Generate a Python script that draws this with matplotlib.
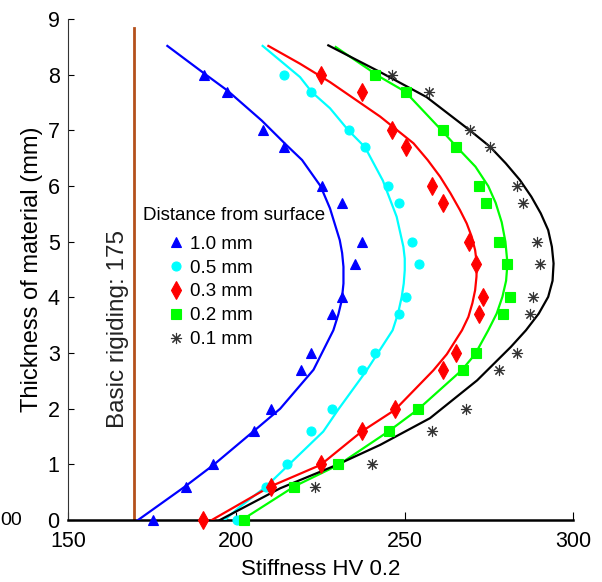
"""
Hardness profile across the material thickness
==============================================
Stiffness HV 0.2 against material thickness for five distances
from the surface, with the basic rigidity reference line.
"""

import matplotlib
matplotlib.use("Agg")
import matplotlib.pyplot as plt
from matplotlib.lines import Line2D

# ---------------------------------------------------------------------------
# Data
# ---------------------------------------------------------------------------

# measured points: thickness (mm) and stiffness HV 0.2
THICKNESS_PTS = [0.0, 0.6, 1.0, 1.6, 2.0, 2.7, 3.0, 3.7, 4.0,
                 4.6, 5.0, 5.7, 6.0, 6.7, 7.0, 7.7, 8.0]
THICKNESS_PTS_01 = THICKNESS_PTS[1:]          # no point at 0 mm for 0.1 mm

HV_10 = [175.2, 185.0, 193.2, 205.3, 210.2, 219.1, 222.2, 228.3, 231.3,
         235.2, 237.2, 231.3, 225.3, 214.2, 208.0, 197.3, 190.4]
HV_05 = [200.1, 208.8, 215.1, 222.2, 228.3, 237.2, 241.2, 248.2, 250.4,
         254.2, 252.3, 248.3, 245.1, 238.2, 233.3, 222.1, 214.2]
HV_03 = [190.2, 210.2, 225.0, 237.2, 247.1, 261.3, 265.2, 272.2, 273.2,
         271.2, 269.2, 261.3, 258.2, 250.4, 246.1, 237.2, 225.0]
HV_02 = [202.4, 217.1, 230.3, 245.3, 254.0, 267.2, 271.2, 279.2, 281.3,
         280.3, 278.1, 274.1, 272.2, 265.2, 261.3, 250.3, 241.2]
HV_01 = [223.2, 240.2, 258.2, 268.1, 278.1, 283.3, 287.1, 288.1,
         290.2, 289.2, 285.1, 283.2, 275.2, 269.3, 257.2, 246.1]

# fitted curves
FIT_10_Y = [0.0, 0.6, 0.99, 1.6, 2.0, 2.7, 3.41, 3.7, 3.95, 4.25, 4.55,
            4.8, 5.03, 5.6, 6.0, 6.47, 6.73, 7.18, 7.72, 8.0, 8.52]
FIT_10_X = [170.8, 184.7, 193.2, 205.2, 213.0, 222.9, 228.8, 230.3, 231.3,
            231.8, 231.8, 231.4, 230.7, 227.8, 225.0, 219.5, 215.0, 207.5,
            197.3, 191.0, 179.5]

FIT_05_Y = [0.0, 0.24, 0.6, 0.99, 1.59, 1.99, 2.69, 3.41, 3.71, 4.01, 4.25,
            4.49, 4.7, 4.91, 5.45, 6.1, 6.7, 7.0, 7.4, 7.69, 7.96, 8.52]
FIT_05_X = [196.5, 201.1, 208.8, 215.5, 225.8, 230.3, 238.7, 246.4, 248.0,
            249.1, 249.7, 250.0, 250.0, 249.6, 247.6, 243.5, 238.2, 233.3,
            227.8, 222.4, 218.9, 207.8]

FIT_03_Y = [0.0, 0.6, 0.99, 1.59, 1.98, 2.69, 2.98, 3.41, 3.65, 3.9, 4.13,
            4.37, 4.61, 4.85, 5.09, 5.33, 5.57, 5.87, 6.17, 6.47, 6.77,
            7.25, 7.87, 8.2, 8.52]
FIT_03_X = [192.7, 210.0, 225.0, 237.2, 247.1, 258.5, 262.5, 267.0, 268.9,
            270.1, 270.9, 271.3, 271.4, 270.9, 269.9, 268.4, 266.4, 263.6,
            260.5, 256.8, 252.6, 242.7, 227.8, 218.9, 209.5]

FIT_02_Y = [0.0, 0.61, 0.99, 1.59, 1.99, 2.69, 2.98, 3.41, 3.71, 4.01, 4.3,
            4.61, 5.0, 5.35, 5.7, 6.0, 6.35, 6.7, 7.0, 7.7, 7.96, 8.5]
FIT_02_X = [201.6, 217.4, 230.3, 245.1, 254.0, 266.9, 270.9, 274.8, 277.3,
            279.0, 280.1, 280.5, 279.9, 278.8, 277.0, 274.8, 271.0, 265.5,
            261.0, 250.1, 242.7, 229.5]

FIT_01_Y = [0.0, 0.57, 0.99, 1.35, 1.83, 2.51, 3.11, 3.41, 3.71, 4.01, 4.3,
            4.61, 4.91, 5.21, 5.51, 5.81, 6.11, 6.41, 6.71, 7.0, 7.6, 8.05,
            8.53]
FIT_01_X = [195.1, 213.0, 229.8, 242.7, 257.5, 271.5, 281.5, 286.0, 289.8,
            292.6, 293.9, 294.2, 293.7, 292.6, 290.4, 287.6, 284.2, 280.0,
            275.3, 269.4, 256.5, 242.7, 227.3]

# basic rigidity reference line
BASE_HV = 169.6
BASE_TOP = 8.84

LABELS = ["1.0 mm", "0.5 mm", "0.3 mm", "0.2 mm", "0.1 mm"]
X_TICKS = [150, 200, 250, 300]
Y_TICKS = list(range(0, 10))

# ---------------------------------------------------------------------------
# Style
# ---------------------------------------------------------------------------

NARROW = ["Liberation Sans Narrow", "Liberation Sans", "DejaVu Sans"]
WIDE = ["Liberation Sans", "DejaVu Sans"]
plt.rcParams["font.family"] = NARROW

SERIES = [
    # y, x, fit y, fit x, colour, marker, marker size
    (THICKNESS_PTS, HV_10, FIT_10_Y, FIT_10_X, "#0000ff", "^", 7.5),
    (THICKNESS_PTS, HV_05, FIT_05_Y, FIT_05_X, "#00ffff", "o", 6.5),
    (THICKNESS_PTS, HV_03, FIT_03_Y, FIT_03_X, "#ff0000", "d", 9.0),
    (THICKNESS_PTS, HV_02, FIT_02_Y, FIT_02_X, "#00ff00", "s", 6.5),
    (THICKNESS_PTS_01, HV_01, FIT_01_Y, FIT_01_X, "#000000", (8, 2, 0), 8.0),
]

# ---------------------------------------------------------------------------
# Plot
# ---------------------------------------------------------------------------

fig = plt.figure(figsize=(6.02, 5.82), dpi=100)
ax = fig.add_axes([0.113, 0.1065, 0.839, 0.8605])

ax.plot([BASE_HV, BASE_HV], [0, BASE_TOP], color="#b4501c", lw=2.0)

handles = []
for ys, xs, fy, fx, color, marker, ms in SERIES:
    ax.plot(fx, fy, color=color, lw=1.6, zorder=3, solid_joinstyle="round")
    mec = "#333333" if color == "#000000" else color
    ax.plot(xs, ys, linestyle="none", marker=marker, ms=ms, color=color,
            mec=mec, mew=0.8, clip_on=False, zorder=4)
    handles.append(Line2D([], [], linestyle="none", marker=marker, ms=ms,
                          color=color, mec=mec, mew=0.8))

ax.set_xlim(150, 300)
ax.set_ylim(0, 9)
ax.set_xticks(X_TICKS)
ax.set_yticks(Y_TICKS)
ax.tick_params(direction="in", length=4, width=0.8, labelsize=15.5)
ax.tick_params(axis="x", pad=8, length=6)
ax.tick_params(axis="y", pad=6)

for side in ["top", "right"]:
    ax.spines[side].set_visible(False)
ax.spines["bottom"].set_linewidth(1.8)
ax.spines["left"].set_linewidth(0.8)
ax.spines["left"].set_color("#333333")

ax.set_xlabel("Stiffness HV 0.2", fontsize=16, labelpad=5)
ax.set_ylabel("Thickness of material (mm)", fontsize=17, family=WIDE,
              labelpad=3)

ax.text(164.85, 3.43, "Basic rigiding: 175", rotation=90, ha="center",
        va="center", fontsize=17.5, family=WIDE, color="#222222")

ax.text(0.1485, 0.608, "Distance from surface", transform=ax.transAxes,
        ha="left", va="center", fontsize=13.5)
ax.legend(handles, LABELS, loc="upper left", bbox_to_anchor=(0.202, 0.568),
          frameon=False, fontsize=13.5, handlelength=0.66,
          handletextpad=0.4, labelspacing=0.36, borderpad=0,
          borderaxespad=0)

# cropped tick label of the neighbouring panel at the left edge
fig.text(0.0, 0.1065, "00", ha="left", va="center", fontsize=14)

fig.savefig("out.png", dpi=100)
